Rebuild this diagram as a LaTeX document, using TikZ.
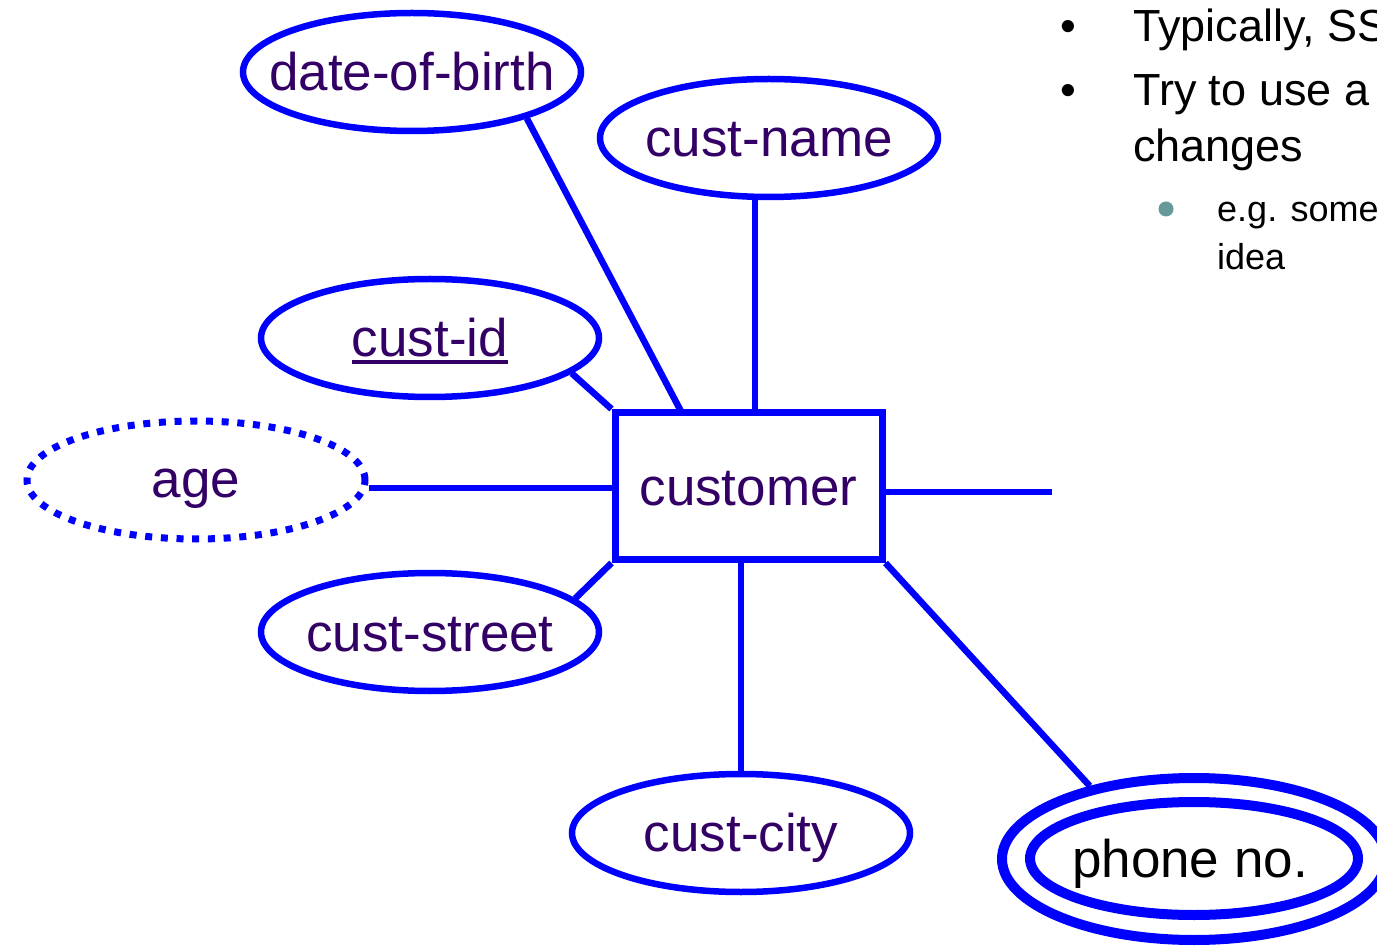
\documentclass[tikz,border=0pt]{standalone}
\usepackage{fontspec}
\setmainfont{Liberation Sans}
\usetikzlibrary{shapes.geometric,calc}
\definecolor{erblue}{RGB}{0,0,255}
\definecolor{labelpurple}{RGB}{51,0,102}
\definecolor{subdot}{RGB}{102,153,153}
\newcommand\erlabelfont{\fontsize{53}{60}\selectfont}
\newcommand\bulletfont{\fontsize{45}{54}\selectfont}
\newcommand\subbulletfont{\fontsize{36}{44}\selectfont}

\begin{document}
\begin{tikzpicture}[x=1pt,y=-1pt,
  attr/.style={ellipse, draw=erblue, line width=6.5pt, minimum width=338pt,
    minimum height=118pt, inner sep=0pt},
  derived/.style={attr, line width=7pt, dash pattern=on 7pt off 8.7pt},
  entity/.style={rectangle, draw=erblue, line width=7pt, minimum width=267pt,
    minimum height=147pt, inner sep=0pt},
  multi/.style={attr, line width=10pt},
  conn/.style={draw=erblue, line width=6.5pt},
  lbl/.style={anchor=base, inner sep=0pt, text=labelpurple, font=\erlabelfont},
  bullettext/.style={anchor=base west, inner sep=0pt, font=\bulletfont},
  bulletmark/.style={anchor=base, inner sep=0pt, font=\bulletfont},
  subtext/.style={anchor=base west, inner sep=0pt, font=\subbulletfont}]

\useasboundingbox (0,0) rectangle (1377,949);
\clip (0,0) rectangle (1377,949);

% entity
\node[entity] (cust) at (748.5,486) {};
\node[lbl] (custt) at ($(cust)+(0,19)$) {customer};

% attributes
\node[attr] (dob) at (412,72) {};
\node[lbl] (dobt) at ($(dob)+(0,19)$) {date-of-birth};
\node[attr] (cname) at (769,138) {};
\node[lbl] (cnamet) at ($(cname)+(0,19)$) {cust-name};
\node[attr] (cid) at (430,338) {};
\node[lbl] (cidt) at ($(cid)+(0,19)$) {cust-id};
\draw[labelpurple, line width=3.3pt] ($(cidt.base west)+(0,5)$) -- ($(cidt.base east)+(0,5)$);
\node[derived] (age) at (196,480) {};
\node[lbl] (aget) at ($(age)+(0,17)$) {age};
\node[attr] (cstreet) at (430,632) {};
\node[lbl] (cstreett) at ($(cstreet)+(0,19)$) {cust-street};
\node[attr] (ccity) at (741,833) {};
\node[lbl] (ccityt) at ($(ccity)+(0,18)$) {cust-city};

% multivalued attribute
\node[multi, minimum width=384pt, minimum height=162pt] (phoneout) at (1194,859) {};
\node[multi, minimum width=328pt, minimum height=113pt] (phone) at (1194,858.5) {};
\node[lbl, text=black] (phonet) at (1190,877) {phone no.};

% connectors
\coordinate (dobfoot) at ($(cust.north west)!0.255!(cust.north east)+(0,3)$);
\coordinate (namefoot) at ($(cust.north west)!0.524!(cust.north east)$);
\coordinate (ageline) at (0,488);
\coordinate (rfree) at (1052,492);

\draw[conn] (dob.-22) -- (dobfoot);
\draw[conn] (namefoot |- cname.south) -- (namefoot);
\draw[conn] (cid.-14) -- (cust.north west);
\draw[conn] (age.east |- ageline) -- (cust.west |- ageline);
\draw[conn] (cust.east |- rfree) -- (rfree);
\draw[conn] (cstreet.13) -- (cust.south west);
\draw[conn] (ccity.north) -- (ccity.north |- cust.south);
\draw[conn] (cust.south east) -- (phoneout.145);

% bullet text
\node[bulletmark] (m1) at (1068,42) {•};
\node[bullettext] (t1) at (1133,42) {Typically, SS};
\node[bulletmark] (m2) at (1068,106) {•};
\node[bullettext] (t2) at (1133,106) {Try to use a};
\node[bullettext] (t3) at (1133,162) {changes};
\node[circle, fill=subdot, minimum size=15pt, inner sep=0pt] (sm1) at (1166,209) {};
\node[subtext] (s1) at (1217,222) {e.g. some};
\node[subtext] (s2) at (1217,270) {idea};
\end{tikzpicture}
\end{document}
